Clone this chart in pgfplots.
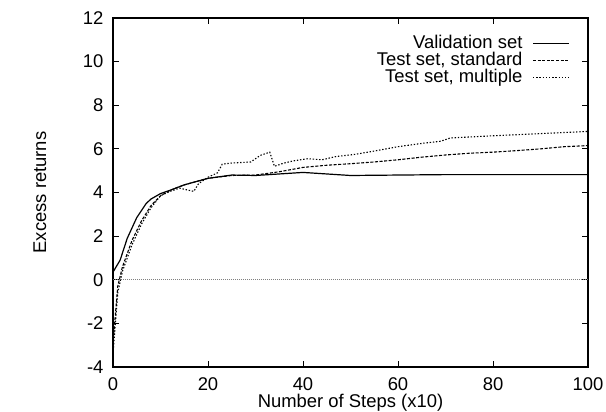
\documentclass[border=0pt]{standalone}
\usepackage{fontspec}
\setmainfont{Liberation Sans}
\usepackage{pgfplots}
\pgfplotsset{compat=1.18}

\begin{document}
\begin{tikzpicture}[font=\fontsize{18.5}{21}\selectfont]
\begin{axis}[
  scale only axis,
  width=475bp, height=349bp,
  xmin=0, xmax=100,
  ymin=-4, ymax=12,
  xtick={0,20,40,60,80,100},
  ytick={-4,-2,0,2,4,6,8,10,12},
  tick align=inside,
  major tick length=6bp,
  axis line style={line width=1.1bp},
  tick style={line width=0.8bp, black},
  /pgf/number format/assume math mode=true,
  tick label style={font=\fontsize{18.5}{21}\selectfont},
  label style={font=\fontsize{18.5}{21}\selectfont},
  xticklabel style={inner sep=0pt, yshift=-10bp},
  yticklabel style={xshift=-6bp},
  xlabel={Number of Steps (x10)},
  ylabel={Excess returns},
  xlabel style={at={(axis description cs:0.5,-0.102)}, anchor=center, inner sep=0pt},
  ylabel style={at={(axis description cs:-0.154,0.5)}, anchor=center},
  legend style={draw=none, fill=none, at={(0.968,0.958)}, anchor=north east,
    cells={anchor=east}, row sep=0pt, column sep=10bp,
    nodes={inner sep=0pt, text height=13.5bp, text depth=3.5bp},
    font=\fontsize{18.5}{21}\selectfont},
  legend plot pos=right,
  legend image code/.code={\draw[#1] (0bp,0bp) -- (36bp,0bp);},
]
% zero line
\addplot[gray, line width=0.6bp, dash pattern=on 1bp off 1bp, forget plot]
  coordinates {(0,0)(100,0)};

\addplot[black, line width=1.2bp] coordinates {
 (0,0.35)(1.5,0.9)(3,1.9)(5,2.85)(7,3.5)(8,3.7)(10,3.95)(12,4.1)(15,4.35)
 (20,4.65)(25,4.8)(30,4.78)(35,4.85)(40,4.92)(45,4.85)(50,4.78)(60,4.8)
 (70,4.82)(80,4.82)(90,4.82)(100,4.82)};
\addlegendentry{Validation set}

\addplot[black, line width=1.1bp, dash pattern=on 3bp off 1.6bp] coordinates {
 (0,-2.9)(1,-0.3)(2,0.6)(4,1.8)(6,2.7)(8,3.4)(10,3.85)(12,4.1)(15,4.35)
 (20,4.65)(25,4.78)(30,4.8)(35,4.95)(40,5.15)(45,5.25)(50,5.32)(55,5.4)
 (60,5.5)(65,5.62)(70,5.72)(75,5.8)(80,5.85)(85,5.92)(90,6.0)(95,6.1)(100,6.15)};
\addlegendentry{Test set, standard}

\addplot[black, line width=1.1bp, dash pattern=on 1.4bp off 1.8bp] coordinates {
 (0,-3.4)(1,-0.6)(2,0.4)(4,1.6)(6,2.55)(8,3.3)(10,3.85)(12,4.05)(14,4.2)
 (16,4.1)(17,4.05)(18,4.4)(20,4.7)(22,4.9)(23,5.3)(25,5.35)(29,5.4)(31,5.7)
 (33,5.85)(34,5.2)(36,5.35)(38,5.45)(41,5.55)(44,5.5)(47,5.65)(51,5.75)
 (55,5.9)(60,6.1)(65,6.25)(69,6.35)(71,6.5)(80,6.6)(90,6.7)(100,6.8)};
\addlegendentry{Test set, multiple}
\end{axis}
\path (current axis.south west) ++(-113bp,-44bp);
\path (current axis.north east) ++(18bp,18bp);
\end{tikzpicture}
\end{document}
